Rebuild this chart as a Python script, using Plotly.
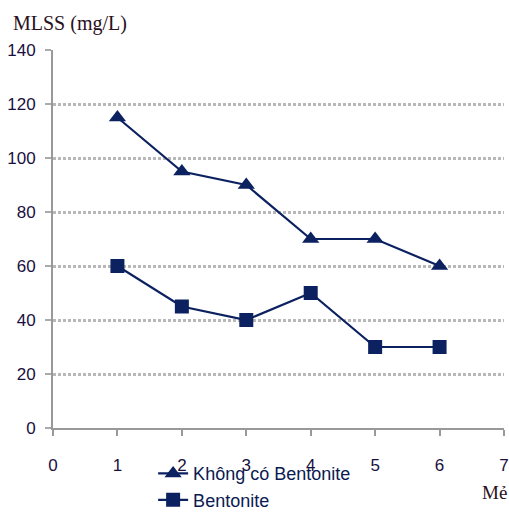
import plotly.graph_objects as go

batches = [1, 2, 3, 4, 5, 6]
khong_co_bentonite = [115, 95, 90, 70, 70, 60]
bentonite = [60, 45, 40, 50, 30, 30]
x_ticks = [0, 1, 2, 3, 4, 5, 6, 7]
y_ticks = [0, 20, 40, 60, 80, 100, 120, 140]

navy = "#0b2160"
fig = go.Figure()
fig.add_trace(go.Scatter(x=batches, y=khong_co_bentonite, mode="lines+markers",
                         name="Không có Bentonite",
                         line=dict(color=navy, width=2.2),
                         marker=dict(symbol="triangle-up", size=15, color=navy),
                         cliponaxis=False))
fig.add_trace(go.Scatter(x=batches, y=bentonite, mode="lines+markers",
                         name="Bentonite",
                         line=dict(color=navy, width=2.2),
                         marker=dict(symbol="square", size=14, color=navy),
                         cliponaxis=False))

tickfont = dict(family="Liberation Sans, Arial", size=17, color="#1a1040")
fig.update_layout(
    width=509, height=513,
    margin=dict(l=53, r=5, t=50, b=85, autoexpand=False),
    paper_bgcolor="white", plot_bgcolor="white",
    showlegend=True,
    legend=dict(x=0.222, y=-0.072, xanchor="left", yanchor="top",
                bgcolor="rgba(0,0,0,0)", font=dict(family="Liberation Sans, Arial", size=18, color="#0b1a50"),
                tracegroupgap=0, itemwidth=30),
    xaxis=dict(range=[0, 7], tickvals=x_ticks, showgrid=False, zeroline=False,
               showline=True, linecolor="#999999", linewidth=2, automargin=False,
               ticks="outside", ticklen=6, tickcolor="#999999", tickwidth=2,
               ticklabelstandoff=15, ticklabeloverflow="allow", tickfont=tickfont),
    yaxis=dict(range=[0, 140], tickvals=y_ticks, showgrid=True, gridcolor="#b8b8b8",
               griddash="3px,2px", gridwidth=2.5, zeroline=False, automargin=False,
               showline=True, linecolor="#999999", linewidth=2,
               ticks="outside", ticklen=6, tickcolor="#aaaaaa", tickwidth=2,
               ticklabelstandoff=6, tickfont=tickfont),
    annotations=[
        dict(text="MLSS (mg/L)", xref="paper", yref="paper", x=-0.093, y=1.07,
             xanchor="left", yanchor="middle", showarrow=False,
             font=dict(family="Liberation Serif, Times New Roman", size=20, color="#2a1020")),
        dict(text="Mẻ", xref="paper", yref="paper", x=1.012, y=-0.17,
             xanchor="right", yanchor="middle", showarrow=False,
             font=dict(family="Liberation Serif, Times New Roman", size=19, color="#2a1020")),
    ],
)
fig.write_html("out.html", config={"displayModeBar": False},
               post_script="document.body.style.margin='0px';")
